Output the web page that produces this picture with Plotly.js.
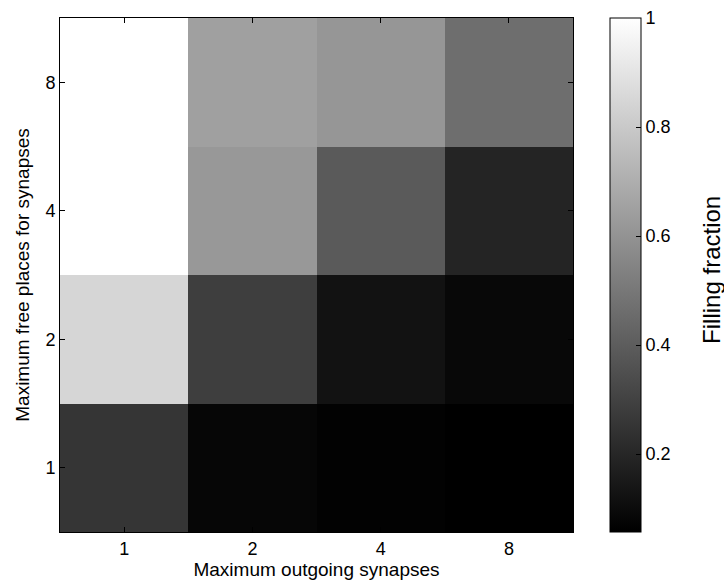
<!DOCTYPE html>
<html>
<head>
<meta charset="utf-8">
<script src="https://cdn.plot.ly/plotly-3.0.1.min.js"></script>
<style>html,body{margin:0;padding:0;background:#fff;}#chart{width:724px;height:588px;}</style>
</head>
<body>
<div id="chart"></div>
<script>
const outgoing = ['1', '2', '4', '8'];
const freePlaces = ['1', '2', '4', '8'];
// rows follow freePlaces (bottom to top), columns follow outgoing
const row1 = [0.253, 0.079, 0.064, 0.057];
const row2 = [0.848, 0.286, 0.124, 0.087];
const row4 = [1.000, 0.619, 0.390, 0.190];
const row8 = [1.000, 0.649, 0.612, 0.464];
const colorTicks = [0.2, 0.4, 0.6, 0.8, 1];

const fam = 'Liberation Sans, Arial, sans-serif';
const tickFont = {family: fam, size: 18, color: '#000'};
const titleFont = {family: fam, size: 19, color: '#000'};

const trace = {
  type: 'heatmap',
  x: outgoing,
  y: freePlaces,
  z: [row1, row2, row4, row8],
  zmin: 0.057,
  zmax: 1,
  colorscale: [[0, '#000000'], [1, '#ffffff']],
  xgap: 0, ygap: 0,
  hoverinfo: 'skip',
  colorbar: {
    x: 1.072, xanchor: 'left', xref: 'paper',
    y: 0.5, yanchor: 'middle', len: 1, lenmode: 'fraction',
    thickness: 31, thicknessmode: 'pixels',
    outlinewidth: 1, outlinecolor: '#000',
    ticks: 'inside', ticklen: 5, tickcolor: '#000',
    tickvals: colorTicks, ticktext: colorTicks.map(String),
    tickfont: tickFont, xpad: 0, ypad: 0,
    title: {text: ''}
  }
};

const layout = {
  width: 724, height: 588,
  margin: {l: 60, r: 151, t: 18, b: 56, pad: 0},
  paper_bgcolor: '#fff', plot_bgcolor: '#fff',
  font: tickFont,
  xaxis: {
    type: 'category', range: [-0.5, 3.5],
    showline: true, linecolor: '#000', linewidth: 1, mirror: 'ticks',
    ticks: 'inside', ticklen: 5, tickcolor: '#000',
    showgrid: false, zeroline: false, tickfont: tickFont,
    title: {text: 'Maximum outgoing synapses', font: titleFont, standoff: 4}
  },
  yaxis: {
    type: 'category', range: [-0.5, 3.5],
    showline: true, linecolor: '#000', linewidth: 1, mirror: 'ticks',
    ticks: 'inside', ticklen: 5, tickcolor: '#000',
    showgrid: false, zeroline: false, tickfont: tickFont,
    title: {text: 'Maximum free places for synapses', font: titleFont, standoff: 10}
  },
  annotations: [{
    text: 'Filling fraction', textangle: -90,
    xref: 'paper', yref: 'paper', x: 1.271, y: 0.51,
    xanchor: 'center', yanchor: 'middle', showarrow: false,
    font: {family: fam, size: 24, color: '#000'}
  }]
};

Plotly.newPlot('chart', [trace], layout, {displayModeBar: false, staticPlot: true});
</script>
</body>
</html>
